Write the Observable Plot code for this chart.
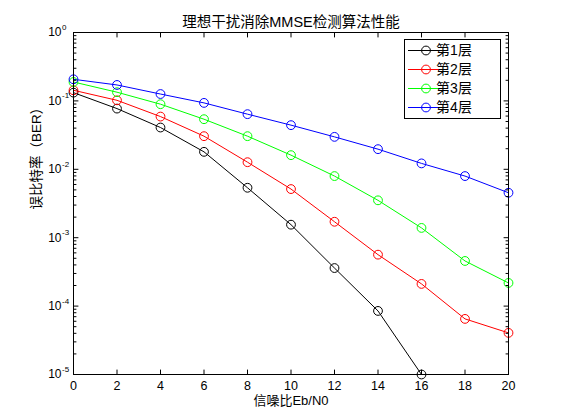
<!DOCTYPE html>
<html>
<head>
<meta charset="utf-8">
<script src="https://cdn.jsdelivr.net/npm/d3@7"></script>
<script src="https://cdn.jsdelivr.net/npm/@observablehq/plot@0.6"></script>
<style>
  body { margin: 0; background: #fff; }
</style>
</head>
<body>
<div id="chart-container"></div>
<script>
// values
const snr = [0, 2, 4, 6, 8, 10, 12, 14, 16, 18, 20];
const ber1 = [0.132, 0.0772, 0.0408, 0.0180, 0.00537, 0.00155, 3.6e-4, 8.5e-5, 1.0e-5];
const ber2 = [0.143, 0.102, 0.059, 0.0305, 0.0127, 0.00514, 0.00171, 5.65e-4, 2.11e-4, 6.5e-5, 4.06e-5];
const ber3 = [0.189, 0.134, 0.0895, 0.054, 0.0305, 0.0161, 0.00796, 0.00352, 0.00139, 4.57e-4, 2.18e-4];
const ber4 = [0.207, 0.171, 0.126, 0.0935, 0.064, 0.0442, 0.0298, 0.0197, 0.0122, 0.00796, 0.00454];

const seriesNames = ["第1层", "第2层", "第3层", "第4层"];
const seriesColors = ["#000000", "#ff0000", "#00ff00", "#0000ff"];
const seriesValues = [ber1, ber2, ber3, ber4];

const xTicks = [0, 2, 4, 6, 8, 10, 12, 14, 16, 18, 20];
const yTicks = [1e-5, 1e-4, 1e-3, 1e-2, 1e-1, 1];
const yExponents = ["-5", "-4", "-3", "-2", "-1", "0"];
const xDomain = [0, 20];
const yDomain = [1e-5, 1];

const titleText = "理想干扰消除MMSE检测算法性能";
const xLabel = "信噪比Eb/N0";
const yLabel = "误比特率（BER）";

const font = "'Liberation Sans', Arial, 'Noto Sans CJK SC', sans-serif";

// flatten to rows for Plot
const rows = seriesValues.flatMap((vals, s) =>
  vals.map((v, i) => ({x: snr[i], y: v, s: seriesNames[s]}))
);

// minor ticks of the log axis (2..9 in each decade)
const minorTicks = [];
for (let e = -5; e < 0; e++) {
  for (let m = 2; m <= 9; m++) minorTicks.push(m * Math.pow(10, e));
}

// straight tick shape for Plot.vector
const tickShape = {
  draw(context, l) {
    context.moveTo(0, 0);
    context.lineTo(0, -l);
  }
};

function ticksOn(data, side, len) {
  const opts = {
    length: len, shape: tickShape, anchor: "start",
    stroke: "black", strokeWidth: 1
  };
  if (side === "left") return Plot.vector(data, {...opts, x: () => xDomain[0], y: d => d, rotate: 90});
  if (side === "right") return Plot.vector(data, {...opts, x: () => xDomain[1], y: d => d, rotate: -90});
  if (side === "bottom") return Plot.vector(data, {...opts, x: d => d, y: () => yDomain[0], rotate: 0});
  return Plot.vector(data, {...opts, x: d => d, y: () => yDomain[1], rotate: 180});
}

const plot = Plot.plot({
  width: 561,
  height: 420,
  marginTop: 32,
  marginBottom: 46,
  marginLeft: 73,
  marginRight: 53,
  style: {fontFamily: font, background: "#fff", color: "black"},
  x: {domain: xDomain, axis: null},
  y: {type: "log", domain: yDomain, axis: null},
  color: {domain: seriesNames, range: seriesColors},
  marks: [
    Plot.line(rows, {x: "x", y: "y", z: "s", stroke: "s", strokeWidth: 1}),
    Plot.dot(rows, {x: "x", y: "y", stroke: "s", r: 4.4, strokeWidth: 1}),
    ticksOn(yTicks, "left", 4.5),
    ticksOn(yTicks, "right", 4.5),
    ticksOn(minorTicks, "left", 2.5),
    ticksOn(minorTicks, "right", 2.5),
    ticksOn(xTicks, "bottom", 4.5),
    ticksOn(xTicks, "top", 4.5),
    Plot.frame({stroke: "black", strokeWidth: 1}),
    // y tick labels: 10 with superscript exponent
    Plot.text(yTicks, {x: () => xDomain[0], y: d => d, text: () => "10",
      textAnchor: "end", dx: -12, fontSize: 12, fill: "black"}),
    Plot.text(yTicks, {x: () => xDomain[0], y: d => d, text: (d, i) => yExponents[i],
      textAnchor: "start", dx: -11.5, dy: -5, fontSize: 8, fill: "black"}),
    // x tick labels
    Plot.text(xTicks, {x: d => d, y: () => yDomain[0], text: d => String(d),
      dy: 11, fontSize: 12.5, fill: "black"}),
    // title and axis labels
    Plot.text([titleText], {frameAnchor: "top", dy: -16, fontSize: 14.5, fill: "black"}),
    Plot.text([xLabel], {frameAnchor: "bottom", dy: 30, fontSize: 13, fill: "black"}),
    Plot.text([yLabel], {frameAnchor: "left", dx: -37, dy: 6, rotate: -90, fontSize: 13.5, fill: "black"})
  ]
});

// legend box, top right inside the axes
const svg = d3.select(plot);
const lg = svg.append("g").attr("font-family", font).attr("font-size", 14);
lg.append("rect")
  .attr("x", 404.5).attr("y", 39.5).attr("width", 96).attr("height", 79)
  .attr("fill", "white").attr("stroke", "black");
seriesNames.forEach((name, i) => {
  const yy = 50.5 + i * 19;
  lg.append("line")
    .attr("x1", 408).attr("x2", 444).attr("y1", yy).attr("y2", yy)
    .attr("stroke", seriesColors[i]);
  lg.append("circle")
    .attr("cx", 426).attr("cy", yy).attr("r", 4.4)
    .attr("fill", "none").attr("stroke", seriesColors[i]);
  lg.append("text")
    .attr("x", 454).attr("y", yy).attr("dy", "0.35em")
    .text(name);
});

document.getElementById("chart-container").appendChild(plot);
</script>
</body>
</html>
